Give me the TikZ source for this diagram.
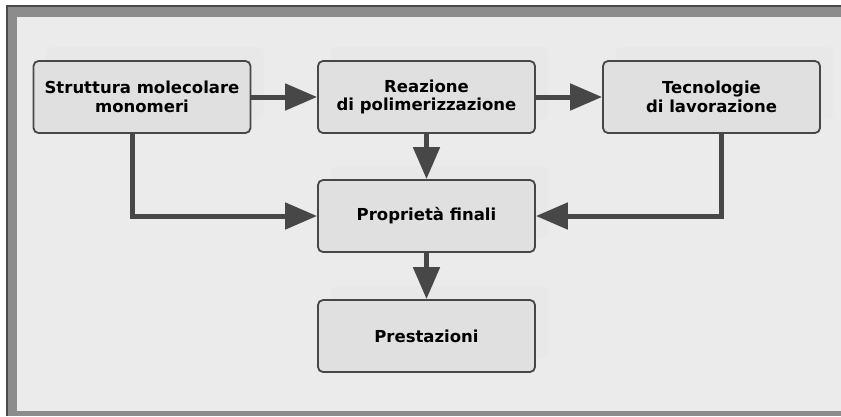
\documentclass[tikz,border=0pt]{standalone}
\usepackage{fontspec}
\setmainfont{DejaVu Sans}
\usepackage{tikz}
\usetikzlibrary{arrows.meta,shadows,positioning,calc}
\definecolor{framegray}{HTML}{8C8C8C}
\definecolor{framedark}{HTML}{4A4A4A}
\definecolor{panelgray}{HTML}{EBEBEB}
\definecolor{boxgray}{HTML}{E0E0E0}
\definecolor{linegray}{HTML}{474747}

\begin{document}
\begin{tikzpicture}[x=1pt, y=-1pt,
		box/.style={draw=linegray, line width=1.8pt, rounded corners=5pt, fill=boxgray,
			minimum width=217pt, minimum height=72pt, align=center, text=black,
			font=\fontsize{16.5}{18.5}\selectfont\bfseries,
			drop shadow={shadow xshift=13pt, shadow yshift=14pt, fill=black!9, opacity=1}},
		arr/.style={draw=linegray, line width=5pt, -{Triangle[length=32pt, width=26pt]}}]
		\useasboundingbox (0,0) rectangle (841,416);
		\fill[framegray] (6,5) rectangle (841,416);
		\draw[framedark, line width=1.5pt] (6.75,416) -- (6.75,5.75) -- (841,5.75);
		\fill[panelgray] (17,17) rectangle (841,411);
		\node[box] (strut) at (142,97) {Struttura molecolare\\monomeri};
		\node[box] (reaz) at (426.5,97) {Reazione\\di polimerizzazione};
		\node[box] (tecn) at (711.5,97) {Tecnologie\\di lavorazione};
		\node[box] (prop) at (426.5,216) {Proprietà finali};
		\node[box] (prest) at (426.5,336) {Prestazioni};
		\draw[arr] (strut) -- (reaz);
		\draw[arr] (reaz) -- (tecn);
		\draw[arr] (reaz) -- (prop);
		\draw[arr] (prop) -- (prest);
		\draw[arr] ([xshift=-10pt]strut.south) |- (prop.west);
		\draw[arr] ([xshift=10pt]tecn.south) |- (prop.east);
\end{tikzpicture}
\end{document}
